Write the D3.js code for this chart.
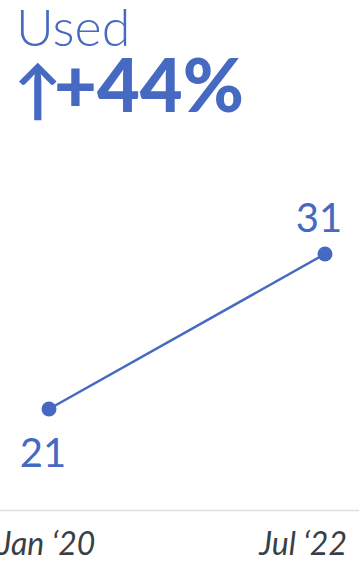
<!DOCTYPE html>
<html>
<head>
<meta charset="utf-8">
<script src="https://cdn.jsdelivr.net/npm/d3@7"></script>
<style>
  body { margin: 0; background: #fff; }
  svg { display: block; font-family: Lato, sans-serif; }
</style>
</head>
<body>
<svg width="359" height="561"></svg>
<script>
// data
var dates = ["Jan \u201820", "Jul \u201822"];
var values = [21, 31];
var title = "Used";
var change = "+44%";

var blue = "#4669c2";
var svg = d3.select("svg");

var xScale = d3.scalePoint().domain(dates).range([49, 325]);
var yScale = d3.scaleLinear().domain([21, 31]).range([409, 254]);

// titles
svg.append("text")
  .attr("x", 16).attr("y", 46)
  .attr("fill", blue)
  .attr("font-size", 52).attr("font-weight", 300)
  .text(title);

svg.append("text")
  .attr("x", 14).attr("y", 113)
  .attr("fill", blue)
  .attr("font-size", 64).attr("font-weight", 700)
  .text("\u2191");

svg.append("text")
  .attr("x", 54).attr("y", 112)
  .attr("fill", blue)
  .attr("font-size", 74).attr("font-weight", 900)
  .text(change);

// baseline
svg.append("line")
  .attr("x1", 0).attr("x2", 359)
  .attr("y1", 510.5).attr("y2", 510.5)
  .attr("stroke", "#dddddd").attr("stroke-width", 1.5);

var pts = dates.map(function(d, i) { return {x: d, y: values[i]}; });

svg.append("path")
  .datum(pts)
  .attr("fill", "none")
  .attr("stroke", blue).attr("stroke-width", 2.5)
  .attr("d", d3.line().x(function(d) { return xScale(d.x); }).y(function(d) { return yScale(d.y); }));

svg.selectAll("circle.pt")
  .data(pts).enter().append("circle")
  .attr("class", "pt")
  .attr("cx", function(d) { return xScale(d.x); })
  .attr("cy", function(d) { return yScale(d.y); })
  .attr("r", 7.5)
  .attr("fill", blue);

// value labels: first below, last above
svg.selectAll("text.val")
  .data(pts).enter().append("text")
  .attr("class", "val")
  .attr("text-anchor", "middle")
  .attr("x", function(d) { return xScale(d.x) - 6; })
  .attr("y", function(d, i) { return i == 0 ? yScale(d.y) + 58 : yScale(d.y) - 22; })
  .attr("fill", blue)
  .attr("font-size", 40)
  .text(function(d) { return d.y; });

// date labels
svg.selectAll("text.date")
  .data(dates).enter().append("text")
  .attr("class", "date")
  .attr("text-anchor", function(d, i) { return i == 0 ? "middle" : "end"; })
  .attr("x", function(d, i) { return i == 0 ? xScale(d) - 2 : 347; })
  .attr("y", 555)
  .attr("fill", "#3a3f45")
  .attr("font-size", 32).attr("font-style", "italic")
  .text(function(d) { return d; });
</script>
</body>
</html>
